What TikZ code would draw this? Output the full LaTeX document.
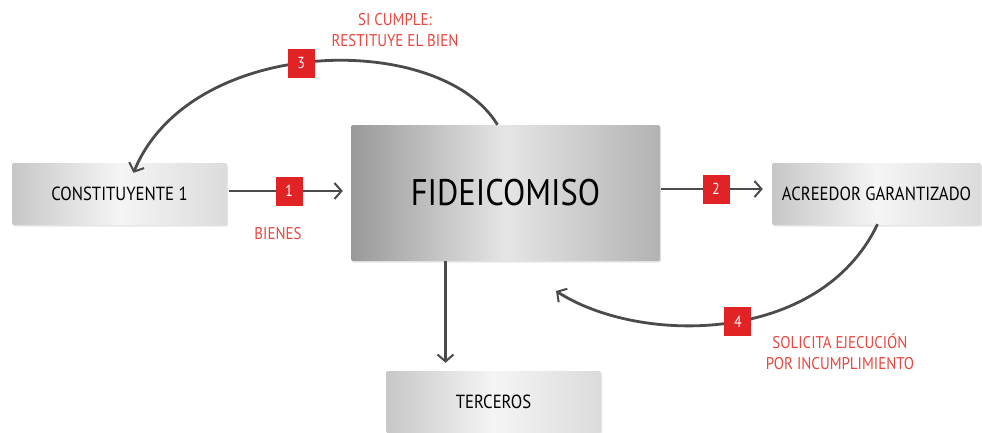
\documentclass[tikz,border=0pt]{standalone}
\usepackage{fontspec}
\setmainfont{PT Sans}[FakeStretch=0.88]
\usetikzlibrary{arrows.meta,shadows}
\definecolor{badgered}{RGB}{226,35,38}
\definecolor{labelred}{RGB}{232,70,62}
\definecolor{linegray}{RGB}{75,75,75}
\begin{document}
\begin{tikzpicture}[x=1pt,y=-1pt,
  box/.style={rectangle, rounded corners=2pt, inner sep=0pt,
    left color=black!22, right color=black!14, middle color=black!4,
    drop shadow={opacity=0.2, shadow xshift=1pt, shadow yshift=-1.5pt},
    font=\fontsize{19}{21}\selectfont, text=black},
  bigbox/.style={box, left color=black!40, right color=black!30, middle color=black!10,
    font=\fontsize{37}{40}\selectfont},
  badge/.style={rectangle, fill=badgered, text=white, minimum width=27pt,
    minimum height=29pt, inner sep=0pt, font=\fontsize{16}{16}\selectfont},
  lbl/.style={text=labelred, font=\fontsize{17}{21}\selectfont, align=center},
  conn/.style={draw=linegray, line width=2.8pt,
    -{Straight Barb[length=7pt,width=16pt,line width=2pt]}},
]
\useasboundingbox (0,0) rectangle (982,432);
\node[box, minimum width=215pt, minimum height=62pt] (c) at (119.5,194) {CONSTITUYENTE 1};
\node[bigbox, minimum width=309pt, minimum height=136pt] (f) at (505.5,193) {FIDEICOMISO};
\node[box, minimum width=209pt, minimum height=62pt] (a) at (876.5,194) {ACREEDOR GARANTIZADO};
\node[box, minimum width=215pt, minimum height=62pt] (t) at (493.5,402) {TERCEROS};

% 1
\draw[conn, shorten <=2pt, shorten >=8pt] ([yshift=3pt]c.east) -- node[badge] (b1) {1} ([yshift=3pt]c.east -| f.west);
\node[lbl] (l1) at (278,234) {BIENES};
% 2
\draw[conn, shorten <=1pt, shorten >=9pt] ([yshift=4pt]f.east) -- node[badge] (b2) {2} ([yshift=4pt]f.east -| a.west);
% 3
\draw[conn] ([xshift=-8pt]f.north) .. controls (440,30) and (190,35) .. ([xshift=14pt,yshift=-10pt]c.north) node[badge, pos=0.53] (b3) {3};
\node[lbl] (l3) at (395,30) {SI CUMPLE:\\RESTITUYE EL BIEN};
% 4
\draw[conn] ([xshift=1pt,yshift=1pt]a.south) .. controls (820,345) and (640,345) .. (556,291) node[badge, pos=0.47] (b4) {4};
\node[lbl] (l4) at (840,352) {SOLICITA EJECUCIÓN\\POR INCUMPLIMIENTO};
% down
\draw[conn, shorten >=8pt] ([xshift=-60pt]f.south) -- ([xshift=-60pt]f.south |- t.north);
\end{tikzpicture}
\end{document}
